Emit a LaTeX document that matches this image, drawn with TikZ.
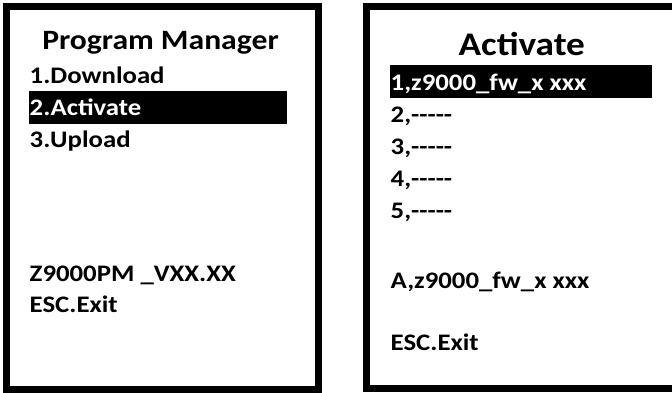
\documentclass[tikz,border=0pt]{standalone}
\usepackage{fontspec}
\setmainfont{Carlito}[FakeStretch=1.13]
\newcommand{\dashes}{-\kern0pt-\kern0pt-\kern0pt-\kern0pt-}
\begin{document}
\begin{tikzpicture}[x=1pt,y=-1pt,
  frame/.style={draw=black,line width=7pt},
  bar/.style={fill=black},
  item/.style={anchor=base west,inner sep=0pt,font=\fontsize{23.7}{28}\selectfont\bfseries},
  selitem/.style={item,text=white},
  ttl/.style={anchor=base,inner sep=0pt,font=\fontsize{#1}{30}\selectfont\bfseries}]
\useasboundingbox (0,0) rectangle (672,392);
\begin{scope}
\clip (0,0) rectangle (672,392);
% left screen
\draw[frame] (6.5,6.5) rectangle (318.7,389);
\fill[bar] (29,91) rectangle (287.3,124);
\node[ttl=28] (t1) at (160.5,49.5) {Program Manager};
\node[item] (l1) at (29.5,83.5) {1.Download};
\node[selitem] (l2) at (29.5,115) {2.Activate};
\node[item] (l3) at (29.5,147) {3.Upload};
\node[item] (l4) at (29.5,281) {Z9000PM \_VXX.XX};
\node[item] (l5) at (29.5,312) {ESC.Exit};
% right screen
\draw[frame] (366.3,6.3) rectangle (690,388.5);
\fill[bar] (390,65) rectangle (652,97.7);
\node[ttl=33] (t2) at (521.8,55) {Activate};
\node[selitem] (r1) at (390.5,90.7) {1,z9000\_fw\_x xxx};
\node[item] (r2) at (390.5,122) {2,\dashes};
\node[item] (r3) at (390.5,154) {3,\dashes};
\node[item] (r4) at (390.5,186.5) {4,\dashes};
\node[item] (r5) at (390.5,218.5) {5,\dashes};
\node[item] (r6) at (390.5,288) {A,z9000\_fw\_x xxx};
\node[item] (r7) at (390.5,350) {ESC.Exit};
\end{scope}
\end{tikzpicture}
\end{document}
